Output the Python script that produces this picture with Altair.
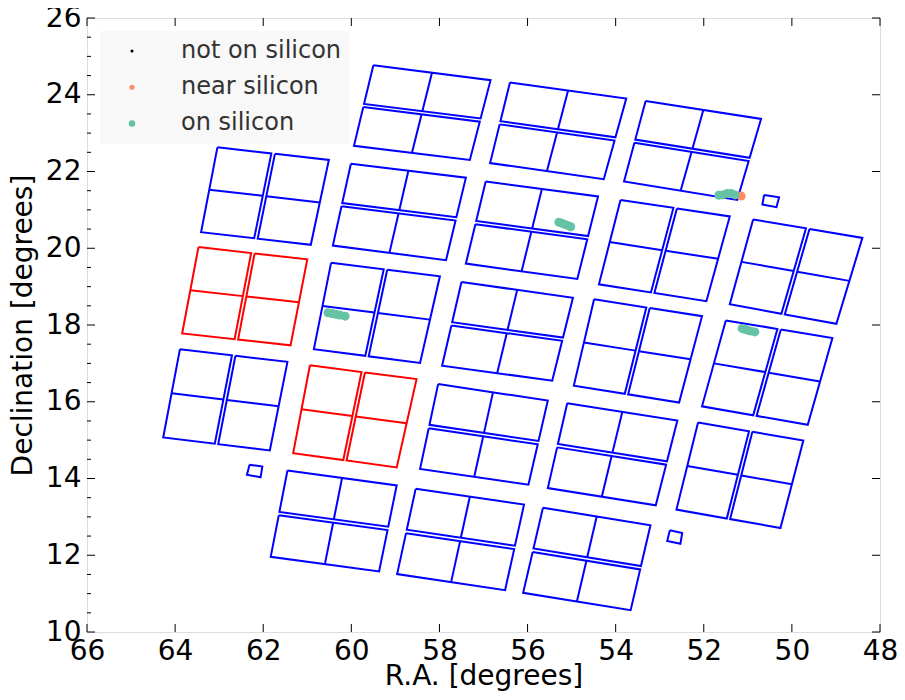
import altair as alt
import pandas as pd
import numpy as np

FONT = "DejaVu Sans"

# ---- Kepler/K2 module outer corners (R.A., Dec in degrees) ----
MODULE_TYPE = ["B", "B", "B", "A", "B", "B", "A", "A", "A", "A", "B",
               "A", "A", "A", "A", "B", "B", "A", "B", "B", "B"]
RED_MODULES = [9, 15]

TL_RA = [59.50, 56.40, 53.32, 63.04, 60.01, 56.95, 53.89, 50.88, 63.47, 60.46, 57.50,
         54.49, 51.50, 63.89, 60.94, 58.03, 55.10, 52.13, 61.45, 58.54, 55.65]
TL_DEC = [24.77, 24.32, 23.84, 22.63, 22.20, 21.74, 21.26, 20.75, 20.03, 19.62, 19.12,
          18.67, 18.12, 17.37, 16.95, 16.46, 15.96, 15.46, 14.21, 13.73, 13.24]
TR_RA = [56.84, 53.76, 50.70, 60.51, 57.40, 54.40, 51.41, 48.40, 61.00, 57.99, 54.97,
         52.04, 49.08, 61.45, 58.52, 55.54, 52.60, 49.74, 58.97, 56.08, 53.21]
TR_DEC = [24.38, 23.90, 23.37, 22.30, 21.84, 21.35, 20.83, 20.27, 19.71, 19.27, 18.71,
          18.23, 17.66, 17.04, 16.59, 16.03, 15.51, 14.99, 13.82, 13.32, 12.78]
BR_RA = [57.31, 54.27, 51.24, 60.92, 57.85, 54.87, 51.94, 48.99, 61.38, 58.44, 55.44,
         52.56, 49.64, 61.85, 58.97, 55.98, 53.09, 50.26, 59.37, 56.51, 53.66]
BR_DEC = [22.30, 21.80, 21.26, 20.09, 19.69, 19.20, 18.62, 18.03, 17.47, 17.01, 16.55,
          15.98, 15.40, 14.73, 14.29, 13.84, 13.30, 12.71, 11.58, 11.09, 10.57]
BL_RA = [59.94, 56.85, 53.81, 63.41, 60.42, 57.40, 54.38, 51.41, 63.84, 60.85, 57.94,
         54.95, 52.04, 64.27, 61.32, 58.44, 55.54, 52.62, 61.83, 58.96, 56.10]
BL_DEC = [22.67, 22.22, 21.74, 20.42, 20.07, 19.60, 19.06, 18.54, 17.78, 17.37, 16.94,
          16.42, 15.88, 15.07, 14.66, 14.25, 13.75, 13.19, 11.96, 11.51, 11.02]

# fine guidance sensors (TL, TR, BR, BL)
FGS_RA = [[60.67, 60.33, 60.38, 60.71], [50.63, 50.29, 50.35, 50.67],
          [62.31, 62.02, 62.06, 62.37], [52.77, 52.49, 52.53, 52.83]]
FGS_DEC = [[23.13, 23.05, 22.82, 22.89], [21.39, 21.33, 21.07, 21.14],
           [14.36, 14.31, 14.03, 14.10], [12.65, 12.58, 12.30, 12.37]]

# target positions
NEAR_RA = [51.15]
NEAR_DEC = [21.36]
ON_RA = [60.53, 60.44, 60.35, 60.26, 60.14,
         55.29, 55.22, 55.15, 55.08, 55.02,
         51.66, 51.57, 51.47, 51.38, 51.29,
         51.13, 51.07, 51.00, 50.93, 50.84]
ON_DEC = [18.32, 18.30, 18.28, 18.26, 18.23,
          20.68, 20.65, 20.62, 20.59, 20.56,
          21.38, 21.39, 21.43, 21.43, 21.39,
          17.91, 17.89, 17.86, 17.84, 17.82]

LEGEND_LABELS = ["not on silicon", "near silicon", "on silicon"]
LEGEND_COLORS = ["#000000", "#fc8d62", "#66c2a5"]

X_MAJOR = [66, 64, 62, 60, 58, 56, 54, 52, 50, 48]
Y_MAJOR = [10, 12, 14, 16, 18, 20, 22, 24, 26]
Y_MINOR = [v for v in np.arange(10, 26.01, 0.5).tolist() if v not in Y_MAJOR]

W, H = 793, 614
GA, GB = 0.016, 0.02  # half-gap between the two CCDs of a module


def lerp(p, q, t):
    return (p[0] + (q[0] - p[0]) * t, p[1] + (q[1] - p[1]) * t)


rows = []
pid = [0]


def add_path(pts, color):
    for i, (r, d) in enumerate(pts):
        rows.append({"path": pid[0], "ord": i, "ra": r, "dec": d, "col": color})
    pid[0] += 1


for m in range(len(MODULE_TYPE)):
    TL = (TL_RA[m], TL_DEC[m])
    TR = (TR_RA[m], TR_DEC[m])
    BR = (BR_RA[m], BR_DEC[m])
    BL = (BL_RA[m], BL_DEC[m])
    color = "#ff0000" if (m + 1) in RED_MODULES else "#0000ff"
    if MODULE_TYPE[m] == "A":
        ccds = [(TL, lerp(TL, TR, 0.5 - GA), lerp(BL, BR, 0.5 - GA), BL),
                (lerp(TL, TR, 0.5 + GA), TR, BR, lerp(BL, BR, 0.5 + GA))]
        for a, b, c, d in ccds:
            add_path([a, b, c, d, a], color)
            add_path([lerp(a, d, 0.5), lerp(b, c, 0.5)], color)
    else:
        ccds = [(TL, TR, lerp(TR, BR, 0.5 - GB), lerp(TL, BL, 0.5 - GB)),
                (lerp(TL, BL, 0.5 + GB), lerp(TR, BR, 0.5 + GB), BR, BL)]
        for a, b, c, d in ccds:
            add_path([a, b, c, d, a], color)
            add_path([lerp(a, b, 0.5), lerp(d, c, 0.5)], color)

for ras, decs in zip(FGS_RA, FGS_DEC):
    pts = list(zip(ras, decs))
    add_path(pts + [pts[0]], "#0000ff")

lines_df = pd.DataFrame(rows)

pts_df = pd.DataFrame({
    "ra": NEAR_RA + ON_RA,
    "dec": NEAR_DEC + ON_DEC,
    "status": ["near silicon"] * len(NEAR_RA) + ["on silicon"] * len(ON_RA),
})

XS = alt.Scale(domain=[48, 66], reverse=True, nice=False, zero=False)
YS = alt.Scale(domain=[10, 26], nice=False, zero=False)

XAXIS = alt.Axis(title="R.A. [degrees]", values=X_MAJOR, format="d", ticks=False, tickSize=0,
                 domain=False, grid=False, labelFontSize=28, titleFontSize=28,
                 labelFont=FONT, titleFont=FONT, titleFontWeight="normal",
                 labelColor="black", titleColor="black", labelPadding=5,
                 titleY=52, titleBaseline="alphabetic",
                 labelFlush=False, labelOverlap=False)
YAXIS = alt.Axis(title="Declination [degrees]", values=Y_MAJOR, format="d", ticks=False, tickSize=0,
                 domain=False, grid=False, labelFontSize=28, titleFontSize=28,
                 labelFont=FONT, titleFont=FONT, titleFontWeight="normal",
                 labelColor="black", titleColor="black", labelPadding=6, titlePadding=8,
                 labelFlush=False, labelOverlap=False)

LEG = alt.Legend(title=None, orient="none", legendX=13, legendY=13, fillColor="#f8f8f8",
                 padding=8, rowPadding=12.2, symbolOffset=12, labelOffset=37, labelLimit=400,
                 labelFontSize=24, labelFont=FONT, labelColor="#333333",
                 symbolStrokeWidth=0, symbolType="circle")

modules = alt.Chart(lines_df).mark_line(strokeWidth=2).encode(
    x=alt.X("ra:Q", scale=XS, axis=XAXIS),
    y=alt.Y("dec:Q", scale=YS, axis=YAXIS),
    detail="path:N",
    order="ord:Q",
    stroke=alt.Stroke("col:N", scale=None),
)

legend_layer = alt.Chart(pts_df).mark_circle(opacity=1).encode(
    x=alt.X("ra:Q", scale=XS, axis=XAXIS),
    y=alt.Y("dec:Q", scale=YS, axis=YAXIS),
    color=alt.Color("status:N", scale=alt.Scale(domain=LEGEND_LABELS, range=LEGEND_COLORS), legend=LEG),
    size=alt.Size("status:N", scale=alt.Scale(domain=LEGEND_LABELS, range=[10, 42, 42]), legend=LEG),
)

points = alt.Chart(pts_df).mark_circle(opacity=1, size=80).encode(
    x=alt.X("ra:Q", scale=XS, axis=XAXIS),
    y=alt.Y("dec:Q", scale=YS, axis=YAXIS),
    color=alt.Color("status:N", scale=alt.Scale(domain=LEGEND_LABELS, range=LEGEND_COLORS), legend=LEG),
)

def xticks(vals, y0, y1):
    return alt.Chart(pd.DataFrame({"v": vals})).mark_rule(color="black", strokeWidth=1).encode(
        x=alt.X("v:Q", scale=XS, axis=XAXIS), y=alt.value(y0), y2=alt.value(y1))

def yticks(vals, x0, x1):
    return alt.Chart(pd.DataFrame({"v": vals})).mark_rule(color="black", strokeWidth=1).encode(
        y=alt.Y("v:Q", scale=YS, axis=YAXIS), x=alt.value(x0), x2=alt.value(x1))

ticks = [
    xticks(X_MAJOR, H - 8, H), xticks(X_MAJOR, 0, 8),
    yticks(Y_MAJOR, 0, 8), yticks(Y_MAJOR, W - 8, W),
    yticks(Y_MINOR, 0, 4),
]

chart = alt.layer(modules, *ticks, legend_layer, points).properties(
    width=W, height=H,
    autosize=alt.AutoSizeParams(type="none"),
    padding={"left": 79, "top": 10, "right": 17, "bottom": 60},
).configure_view(stroke="black", strokeWidth=2).configure(background="white")

chart.save("out.html", embed_options={"renderer": "svg", "actions": False})
